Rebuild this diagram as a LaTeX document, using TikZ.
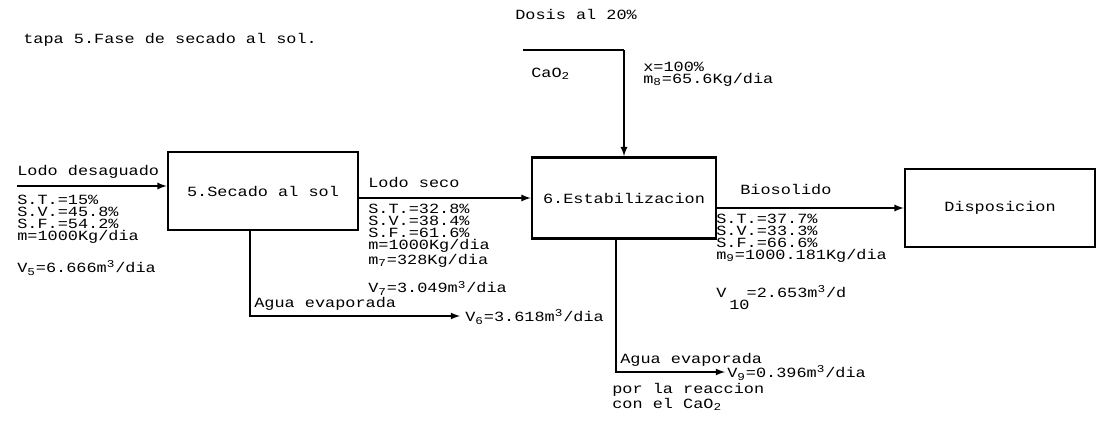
\documentclass[tikz,border=0pt]{standalone}
\usepackage{fontspec}
\newfontfamily\matriz[FakeStretch=1.2]{Liberation Mono}
\usepackage{tikz}
\usetikzlibrary{arrows,calc,positioning}

\begin{document}
\begin{tikzpicture}[x=0.02cm,y=-0.02cm,
    every node/.style={font=\matriz\fontsize{8}{6.8}\selectfont,inner sep=0pt},
    proceso/.style={draw,line width=1.6pt},
    linea/.style={line width=0.8pt},
    flujo/.style={line width=0.8pt,-latex},
    dato/.style={anchor=north west,align=left},
    etiqueta/.style={anchor=west}]
    \useasboundingbox (0,0) rectangle (1111,433);

    % title
    \node[etiqueta] (titulo) at (23,40) {tapa 5.Fase de secado al sol.};

    % process boxes
    \node[proceso,minimum width=3.8cm,minimum height=1.56cm] (secado) at (263,191) {5.Secado al sol};
    \node[proceso,minimum width=3.68cm,minimum height=1.62cm] (estab) at (624,198) {6.Estabilizacion};
    \node[proceso,minimum width=3.8cm,minimum height=1.56cm] (disp) at (1000,208) {Disposicion};

    % dewatered sludge in
    \coordinate (ini) at (17,186);
    \draw[flujo] (ini) -- (ini -| secado.west);
    \node[etiqueta] (lododes) at (17,172) {Lodo desaguado};
    \node[dato] (datos1) at (17,195) {S.T.=15\%\\S.V.=45.8\%\\S.F.=54.2\%\\m=1000Kg/dia};
    \node[etiqueta] (v5) at (17,268) {V\textsubscript{5}=6.666m\textsuperscript{3}/dia};

    % dried sludge
    \draw[flujo] (secado.east |- estab.west) -- (estab.west);
    \node[etiqueta] (lodoseco) at (368,182) {Lodo seco};
    \node[dato] (datos2) at (368,204) {S.T.=32.8\%\\S.V.=38.4\%\\S.F.=61.6\%\\m=1000Kg/dia\\m\textsubscript{7}=328Kg/dia};
    \node[etiqueta] (v7) at (368,288) {V\textsubscript{7}=3.049m\textsuperscript{3}/dia};

    % evaporated water 1
    \coordinate (baja1) at (250,316);
    \coordinate (sal1) at (460,316);
    \draw[flujo] (baja1 |- secado.south) -- (baja1) -- (sal1);
    \node[etiqueta] (agua1) at (254,304) {Agua evaporada};
    \node[etiqueta] (v6) at (465,317) {V\textsubscript{6}=3.618m\textsuperscript{3}/dia};

    % lime dose
    \coordinate (cal) at (523,50);
    \coordinate (codo) at (estab.north |- cal);
    \draw[linea] (cal) -- (codo);
    \draw[flujo] (codo) -- (estab.north);
    \node[etiqueta] (dosis) at (515,14) {Dosis al 20\%};
    \node[etiqueta] (cao) at (531,74) {CaO\textsubscript{2}};
    \node[dato] (datos8) at (643,62) {x=100\%\\m\textsubscript{8}=65.6Kg/dia};

    % biosolids
    \draw[flujo] (estab.east |- disp.west) -- (disp.west);
    \node[etiqueta] (bio) at (740,189) {Biosolido};
    \node[dato] (datos3) at (716,214) {S.T.=37.7\%\\S.V.=33.3\%\\S.F.=66.6\%\\m\textsubscript{9}=1000.181Kg/dia};
    \node[etiqueta] (v10) at (716,292) {V\ \ =2.653m\textsuperscript{3}/d};
    \node[etiqueta] (v10i) at (729,305) {10};

    % evaporated water 2
    \coordinate (baja2) at (616,372);
    \coordinate (sal2) at (725,372);
    \draw[flujo] (baja2 |- estab.south) -- (baja2) -- (sal2);
    \node[etiqueta] (agua2) at (620,360) {Agua evaporada};
    \node[etiqueta] (v9) at (727,373) {V\textsubscript{9}=0.396m\textsuperscript{3}/dia};
    \node[dato] (reac) at (612,383) {por la reaccion\\con el CaO\textsubscript{2}};
\end{tikzpicture}
\end{document}
